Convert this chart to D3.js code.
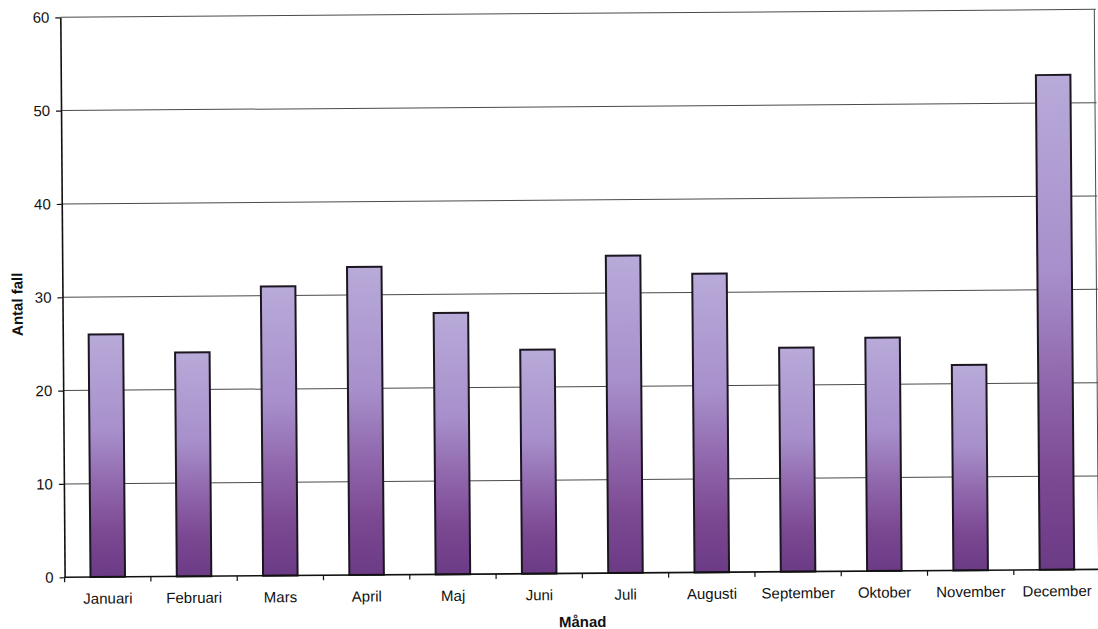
<!DOCTYPE html>
<html>
<head>
<meta charset="utf-8">
<script src="https://cdn.jsdelivr.net/npm/d3@7"></script>
<style>
  html, body { margin: 0; padding: 0; background: #ffffff; }
  svg { display: block; }
  text { font-family: "Liberation Sans", Arial, sans-serif; fill: #111; }
</style>
</head>
<body>
<svg id="chart" width="1098" height="629"></svg>
<script>
// Antal fall per månad
const months = ["Januari", "Februari", "Mars", "April", "Maj", "Juni",
                "Juli", "Augusti", "September", "Oktober", "November", "December"];
const cases = [26, 24, 31, 33, 28, 24, 34, 32, 24, 25, 22, 53];
const yTicks = [0, 10, 20, 30, 40, 50, 60];
const xTitle = "Månad";
const yTitle = "Antal fall";

const plot = { left: 62.5, right: 1098, top: 13.3, bottom: 573.3 };

const svg = d3.select("#chart");

// bar gradient: light lavender at the top, deep purple at the base
const defs = svg.append("defs");
const grad = defs.append("linearGradient")
  .attr("id", "barFill").attr("x1", 0).attr("y1", 0).attr("x2", 0).attr("y2", 1);
[["0%", "#b8aad9"], ["40%", "#a78fcb"], ["62%", "#9067ac"], ["82%", "#7b4892"], ["100%", "#6c3b85"]]
  .forEach(([o, c]) => grad.append("stop").attr("offset", o).attr("stop-color", c));

// the printed page sits slightly tilted
const g = svg.append("g").attr("transform", "rotate(-0.44, 580, 300)");

const x = d3.scaleBand()
  .domain(months)
  .range([plot.left, plot.right])
  .paddingInner(0.6)
  .paddingOuter(0.3);

const y = d3.scaleLinear()
  .domain([0, 60])
  .range([plot.bottom, plot.top]);

// horizontal gridlines
g.append("g").selectAll("line")
  .data(yTicks.filter(d => d > 0))
  .join("line")
  .attr("x1", plot.left).attr("x2", plot.right)
  .attr("y1", d => y(d)).attr("y2", d => y(d))
  .attr("stroke", "#4a4a4a").attr("stroke-width", 1);

// right border of the plot area
g.append("line")
  .attr("x1", plot.right - 1.5).attr("x2", plot.right - 1.5)
  .attr("y1", y(60)).attr("y2", y(0))
  .attr("stroke", "#4a4a4a").attr("stroke-width", 1);

// bars
g.append("g").selectAll("rect")
  .data(months.map((m, i) => ({ m, v: cases[i] })))
  .join("rect")
  .attr("x", d => x(d.m))
  .attr("y", d => y(d.v))
  .attr("width", x.bandwidth())
  .attr("height", d => y(0) - y(d.v))
  .attr("fill", "url(#barFill)")
  .attr("stroke", "#1c1620")
  .attr("stroke-width", 2);

// y axis
const yAxis = g.append("g")
  .attr("transform", `translate(${plot.left},0)`)
  .call(d3.axisLeft(y).tickValues(yTicks).tickSize(5).tickSizeOuter(0).tickPadding(6));
yAxis.select(".domain").attr("stroke", "#111").attr("stroke-width", 1.6);
yAxis.selectAll(".tick line").attr("stroke", "#111").attr("stroke-width", 1.2);
yAxis.selectAll(".tick text")
  .style("font-family", "'Liberation Sans', Arial, sans-serif")
  .style("font-size", "15px").attr("fill", "#111");

// x axis: labels centred in each category, ticks between categories
const xAxis = g.append("g")
  .attr("transform", `translate(0,${plot.bottom})`)
  .call(d3.axisBottom(x).tickSize(0).tickPadding(16));
xAxis.select(".domain").remove();
xAxis.selectAll(".tick text")
  .style("font-family", "'Liberation Sans', Arial, sans-serif")
  .style("font-size", "15px").attr("fill", "#111");

g.append("line")
  .attr("x1", plot.left).attr("x2", plot.right)
  .attr("y1", plot.bottom).attr("y2", plot.bottom)
  .attr("stroke", "#111").attr("stroke-width", 1.6);

const gap = (x.step() - x.bandwidth()) / 2;
const seps = months.map(m => x(m) - gap).concat([plot.right]);
g.append("g").selectAll("line")
  .data(seps)
  .join("line")
  .attr("x1", d => d).attr("x2", d => d)
  .attr("y1", plot.bottom).attr("y2", plot.bottom + 5)
  .attr("stroke", "#111").attr("stroke-width", 1.2);

// axis titles
g.append("text")
  .attr("x", (plot.left + plot.right) / 2)
  .attr("y", 627)
  .attr("text-anchor", "middle")
  .style("font-size", "15px").style("font-weight", "bold")
  .text(xTitle);

g.append("text")
  .attr("transform", "translate(22.5,300) rotate(-90)")
  .attr("text-anchor", "middle")
  .style("font-size", "15px").style("font-weight", "bold")
  .text(yTitle);
</script>
</body>
</html>
